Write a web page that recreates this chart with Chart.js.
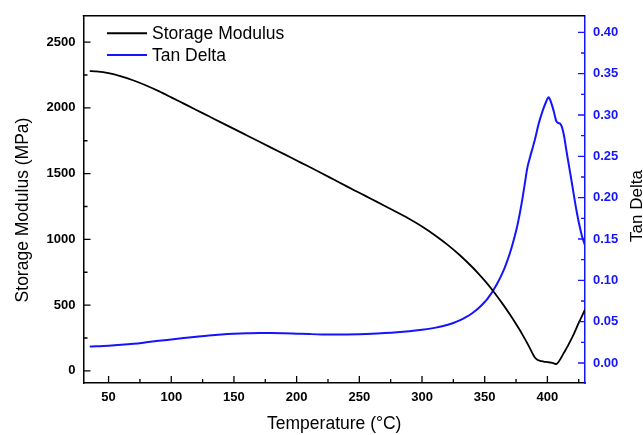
<!DOCTYPE html>
<html><head><meta charset="utf-8">
<script src="https://cdn.jsdelivr.net/npm/chart.js@4.4.1/dist/chart.umd.min.js"></script>
<style>html,body{margin:0;padding:0;background:#fff;}canvas{display:block;}</style>
</head><body>
<canvas id="c" width="643" height="435"></canvas>
<script>
// ---- data ----
const tempSM = [35,40,50,60,70,80,90,100,110,120,130,140,150,160,170,180,190,200,210,220,230,240,250,260,270,280,290,300,310,320,330,340,345,350,355,360,365,370,375,380,385,388,390,392,394,397,400,403,405,407,409,411,413,416,420,425,430];
const modulus = [2280,2277,2264,2240,2208,2170,2127,2080,2032,1984,1936,1888,1840,1792,1744,1696,1648,1600,1552,1503,1453,1403,1354,1305,1256,1206,1155,1098,1034,962,881,790,740,686,628,566,500,430,356,278,192,135,102,85,77,71,67,63,58,52,70,100,135,185,258,365,465];
const tempTD = [35,50,60,70,80,90,100,110,120,130,140,150,160,170,180,190,200,210,220,230,240,250,260,270,280,290,300,310,320,325,330,335,340,345,350,352,355,357,360,362,364,366,368,370,372,374,376,378,380,382,384,386,388,390,393,396,399,401,403,405,407,408.5,410,411.5,413,415.5,419.5,423.5,427.5,430];
const tanDelta = [0.020,0.021,0.022,0.0233,0.025,0.0268,0.0285,0.0302,0.0318,0.0333,0.0345,0.0354,0.036,0.0363,0.0363,0.036,0.0355,0.035,0.0346,0.0345,0.0346,0.0349,0.0354,0.0362,0.0372,0.0385,0.0401,0.0425,0.046,0.0484,0.0515,0.0554,0.0602,0.0662,0.0738,0.0774,0.0836,0.0884,0.0962,0.102,0.1085,0.1155,0.1235,0.1325,0.1425,0.1535,0.166,0.181,0.198,0.217,0.236,0.248,0.259,0.270,0.289,0.304,0.316,0.3215,0.315,0.305,0.293,0.2905,0.2896,0.286,0.277,0.254,0.218,0.182,0.154,0.1425];
const xTicks = [50,100,150,200,250,300,350,400];
const leftTicks = [0,500,1000,1500,2000,2500];
const rightTicks = [0,0.05,0.10,0.15,0.20,0.25,0.30,0.35,0.40];
const seriesNames = ['Storage Modulus','Tan Delta'];
const xTitle = 'Temperature (°C)';
const leftTitle = 'Storage Modulus (MPa)';
const rightTitle = 'Tan Delta';

const BLUE = '#1414ff';
const FONT = "'Liberation Sans', Arial, Helvetica, sans-serif";
Chart.defaults.font.family = FONT;

const toXY = (xs, ys) => xs.map((x, i) => ({x: x, y: ys[i]}));

function minorsOf(majors, lo, hi) {
  const step = majors[1] - majors[0];
  const out = [];
  const cand = [majors[0] - step / 2];
  for (let i = 0; i < majors.length; i++) cand.push(majors[i] + step / 2);
  cand.forEach(v => { if (v >= lo && v <= hi) out.push(v); });
  return out;
}

const decor = {
  id: 'decor',
  afterDraw(chart) {
    const {ctx, chartArea: a, scales} = chart;
    ctx.save();
    ctx.lineCap = 'butt';
    // top frame line
    ctx.strokeStyle = '#000'; ctx.lineWidth = 1.5;
    ctx.beginPath(); ctx.moveTo(a.left - 0.75, a.top); ctx.lineTo(a.right, a.top); ctx.stroke();

    const MAJ = 7, MIN = 4;
    ctx.lineWidth = 1.3;
    // x ticks (inward)
    const sx = scales.x;
    ctx.strokeStyle = '#000';
    ctx.beginPath();
    xTicks.forEach(v => { const p = sx.getPixelForValue(v); ctx.moveTo(p, a.bottom); ctx.lineTo(p, a.bottom - MAJ); });
    minorsOf(xTicks, sx.min, sx.max).forEach(v => { const p = sx.getPixelForValue(v); ctx.moveTo(p, a.bottom); ctx.lineTo(p, a.bottom - MIN); });
    ctx.stroke();
    // left ticks
    const sy = scales.y;
    ctx.beginPath();
    leftTicks.forEach(v => { const p = sy.getPixelForValue(v); ctx.moveTo(a.left, p); ctx.lineTo(a.left + MAJ, p); });
    minorsOf(leftTicks, sy.min, sy.max).forEach(v => { const p = sy.getPixelForValue(v); ctx.moveTo(a.left, p); ctx.lineTo(a.left + MIN, p); });
    ctx.stroke();
    // right ticks
    const sr = scales.y1;
    ctx.strokeStyle = BLUE;
    ctx.beginPath();
    rightTicks.forEach(v => { const p = sr.getPixelForValue(v); ctx.moveTo(a.right, p); ctx.lineTo(a.right - MAJ, p); });
    minorsOf(rightTicks, sr.min, sr.max).forEach(v => { const p = sr.getPixelForValue(v); ctx.moveTo(a.right, p); ctx.lineTo(a.right - MIN, p); });
    ctx.stroke();

    // y axis titles (rotated, reading upward)
    ctx.fillStyle = '#000';
    ctx.textAlign = 'center';
    ctx.textBaseline = 'alphabetic';
    ctx.font = '17.5px ' + FONT;
    ctx.save(); ctx.translate(28, 210); ctx.rotate(-Math.PI / 2); ctx.fillText(leftTitle, 0, 0); ctx.restore();
    ctx.font = '17px ' + FONT;
    ctx.save(); ctx.translate(642, 206); ctx.rotate(-Math.PI / 2); ctx.fillText(rightTitle, 0, 0); ctx.restore();

    // legend
    const items = [{name: seriesNames[0], color: '#000', y: 33.3}, {name: seriesNames[1], color: BLUE, y: 55}];
    ctx.font = '17.5px ' + FONT;
    ctx.textAlign = 'left';
    items.forEach(it => {
      ctx.strokeStyle = it.color; ctx.lineWidth = 2;
      ctx.beginPath(); ctx.moveTo(107, it.y); ctx.lineTo(147, it.y); ctx.stroke();
      ctx.fillStyle = '#000';
      ctx.fillText(it.name, 152, it.y + 6);
    });
    ctx.restore();
  }
};

new Chart(document.getElementById('c'), {
  type: 'line',
  data: {
    datasets: [
      {label: seriesNames[0], data: toXY(tempSM, modulus), yAxisID: 'y', borderColor: '#000', borderWidth: 1.8,
       pointRadius: 0, cubicInterpolationMode: 'monotone', fill: false},
      {label: seriesNames[1], data: toXY(tempTD, tanDelta), yAxisID: 'y1', borderColor: BLUE, borderWidth: 2,
       pointRadius: 0, cubicInterpolationMode: 'monotone', fill: false}
    ]
  },
  options: {
    responsive: false, animation: false, devicePixelRatio: 1,
    layout: {padding: {top: 11, left: 0, right: 0, bottom: 0}},
    plugins: {legend: {display: false}, tooltip: {enabled: false}},
    scales: {
      x: {
        type: 'linear', min: 30, max: 430,
        afterBuildTicks: s => { s.ticks = xTicks.map(v => ({value: v})); },
        afterFit: s => { s.height = 52; },
        grid: {display: true, drawOnChartArea: false, drawTicks: false},
        border: {display: true, color: '#000', width: 1.5},
        ticks: {padding: 7, color: '#000', font: {size: 13, weight: 'bold'}, maxRotation: 0, autoSkip: false, callback: v => String(v)},
        title: {display: true, text: xTitle, color: '#000', font: {size: 17.5}, padding: {top: 0, bottom: 0}}
      },
      y: {
        type: 'linear', position: 'left', min: -92, max: 2700,
        afterBuildTicks: s => { s.ticks = leftTicks.map(v => ({value: v})); },
        afterFit: s => { s.width = 83.5; },
        grid: {display: true, drawOnChartArea: false, drawTicks: false},
        border: {display: true, color: '#000', width: 1.5},
        ticks: {padding: 8, color: '#000', font: {size: 13, weight: 'bold'}, autoSkip: false, callback: v => String(v)}
      },
      y1: {
        type: 'linear', position: 'right', min: -0.0242, max: 0.42,
        afterBuildTicks: s => { s.ticks = rightTicks.map(v => ({value: v})); },
        afterFit: s => { s.width = 58; },
        grid: {display: true, drawOnChartArea: false, drawTicks: false},
        border: {display: true, color: BLUE, width: 1.5},
        ticks: {padding: 8, color: BLUE, font: {size: 13, weight: 'bold'}, autoSkip: false, callback: v => Number(v).toFixed(2)}
      }
    }
  },
  plugins: [decor]
});
</script>
</body></html>
